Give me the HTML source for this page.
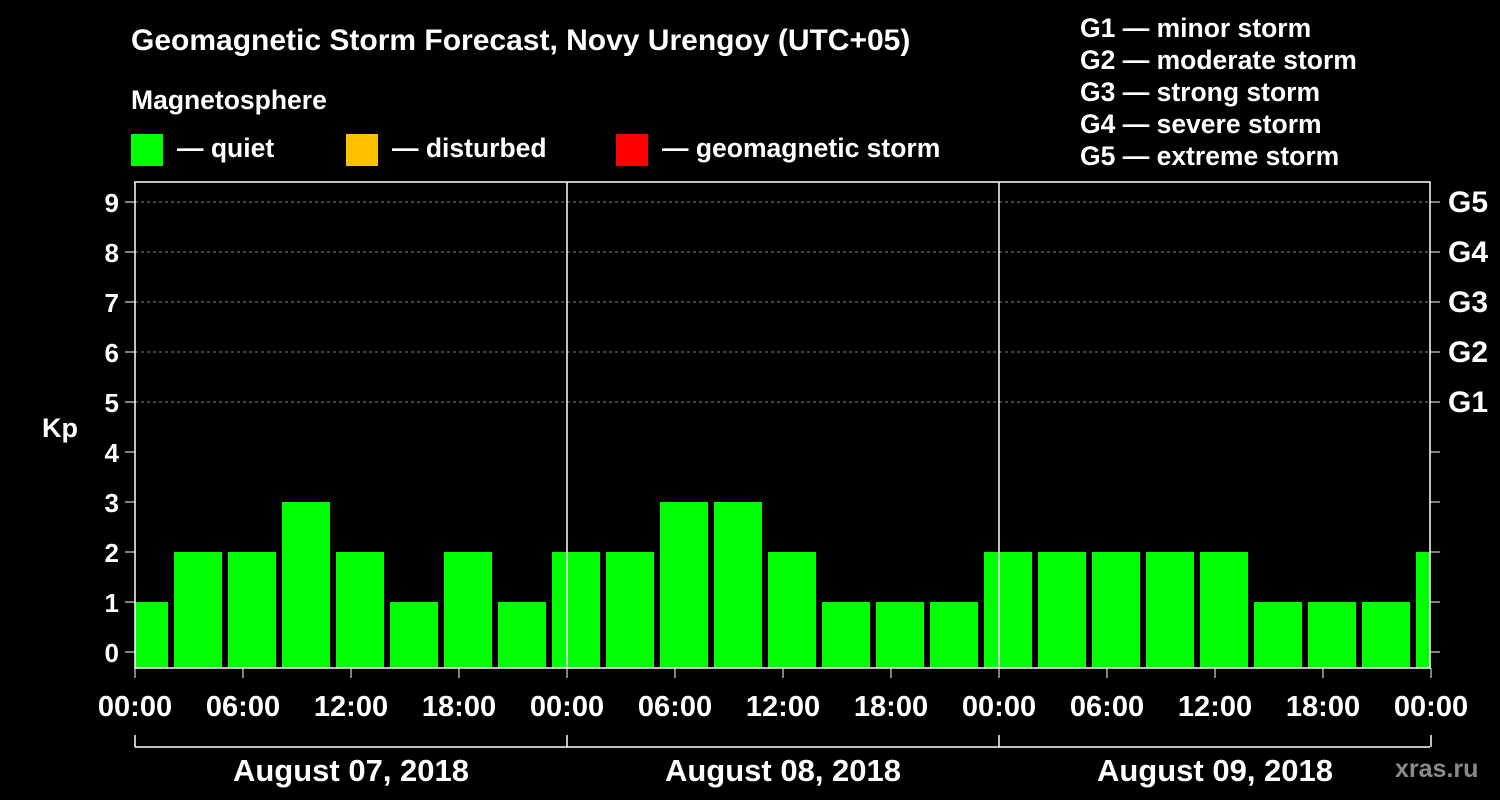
<!DOCTYPE html>
<html><head><meta charset="utf-8"><style>
body{margin:0;background:#000;width:1500px;height:800px;overflow:hidden}
svg{display:block}
text{font-family:"Liberation Sans",Arial,sans-serif;font-weight:bold;fill:#fff}
</style></head><body>
<svg id="c" width="1500" height="800">
<text x="131" y="50" font-size="30">Geomagnetic Storm Forecast, Novy Urengoy (UTC+05)</text>
<text x="131" y="109" font-size="26.5">Magnetosphere</text>
<rect x="131" y="134" width="32" height="32" fill="#00ff00"/>
<text x="177" y="157" font-size="26.5">— quiet</text>
<rect x="346" y="134" width="32" height="32" fill="#ffc000"/>
<text x="392" y="157" font-size="26.5">— disturbed</text>
<rect x="616" y="134" width="32" height="32" fill="#ff0000"/>
<text x="662" y="157" font-size="26.5">— geomagnetic storm</text>
<g font-size="26.5">
<text x="1080" y="37">G1 — minor storm</text>
<text x="1080" y="69">G2 — moderate storm</text>
<text x="1080" y="101">G3 — strong storm</text>
<text x="1080" y="133">G4 — severe storm</text>
<text x="1080" y="165">G5 — extreme storm</text>
</g>
<text x="42" y="437" font-size="27">Kp</text>
<text x="1395" y="777" font-size="25" style="fill:#8a8a8a">xras.ru</text>
<defs><clipPath id="pc"><rect x="135" y="182" width="1295" height="486"/></clipPath></defs>
<g id="bars" clip-path="url(#pc)"></g>
<g id="axes"></g>
</svg>
<script>
const kpValues=[1,2,2,3,2,1,2,1,2,2,3,3,2,1,1,1,2,2,2,2,2,1,1,1,2];
const yTicks=[0,1,2,3,4,5,6,7,8,9];
const gLabels=["G1","G2","G3","G4","G5"];
const hourLabels=["00:00","06:00","12:00","18:00"];
const dayLabels=["August 07, 2018","August 08, 2018","August 09, 2018"];
const NS="http://www.w3.org/2000/svg";
const X0=135,DAY=432,Y0=652,UNIT=50,BOTTOM=668,TOP=182,RIGHT=1430;
const xOf=h=>X0+h*DAY/24;
const yOf=v=>Y0-v*UNIT;
function mk(tag,attrs,parent){const e=document.createElementNS(NS,tag);for(const k in attrs)e.setAttribute(k,attrs[k]);parent.appendChild(e);return e;}
const bars=document.getElementById('bars'),ax=document.getElementById('axes');
kpValues.forEach((v,i)=>{
 const x=xOf(i*3-5/6);
 const col=v>=5?'#ff0000':v>=4?'#ffc000':'#00ff00';
 const r=mk('rect',{x:x,y:yOf(v),width:DAY/8-6,height:BOTTOM-yOf(v),fill:col},bars);
 
 
});
yTicks.forEach(t=>{
 const y=yOf(t);
 if(t>=5){const g=mk('line',{x1:X0,x2:RIGHT,y1:y,y2:y,stroke:'#888','stroke-dasharray':'3,3','stroke-width':1},ax);
 }
 mk('line',{x1:X0-10,x2:X0,y1:y,y2:y,stroke:'#fff','stroke-width':1},ax);
 mk('line',{x1:RIGHT,x2:RIGHT+10,y1:y,y2:y,stroke:'#fff','stroke-width':1},ax);
 const l=mk('text',{x:X0-16,y:y+10,'font-size':26,'text-anchor':'end'},ax);l.textContent=t;
 
 if(t>=5){const g=mk('text',{x:1448,y:y+10,'font-size':30},ax);g.textContent=gLabels[t-5];
 }
});
mk('rect',{x:X0,y:TOP,width:RIGHT-X0,height:BOTTOM-TOP,fill:'none',stroke:'#fff','stroke-width':1.5},ax);
for(let d=1;d<3;d++)mk('line',{x1:xOf(d*24),x2:xOf(d*24),y1:TOP,y2:BOTTOM,stroke:'#fff','stroke-width':1.5},ax);
for(let h=0;h<=72;h+=6){
 const x=xOf(h);
 mk('line',{x1:x,x2:x,y1:BOTTOM,y2:BOTTOM+10,stroke:'#fff'},ax);
 const l=mk('text',{x:x,y:716,'font-size':29,'text-anchor':'middle'},ax);
 l.textContent=hourLabels[(h/6)%4];
 
}
mk('line',{x1:X0,x2:RIGHT,y1:747,y2:747,stroke:'#fff','stroke-width':1.5},ax);
for(let d=0;d<=3;d++)mk('line',{x1:xOf(d*24),x2:xOf(d*24),y1:735,y2:747,stroke:'#fff','stroke-width':1.5},ax);
dayLabels.forEach((s,d)=>{
 const l=mk('text',{x:xOf(d*24+12),y:781,'font-size':31,'text-anchor':'middle'},ax);l.textContent=s;
 
});
</script>
</body></html>
